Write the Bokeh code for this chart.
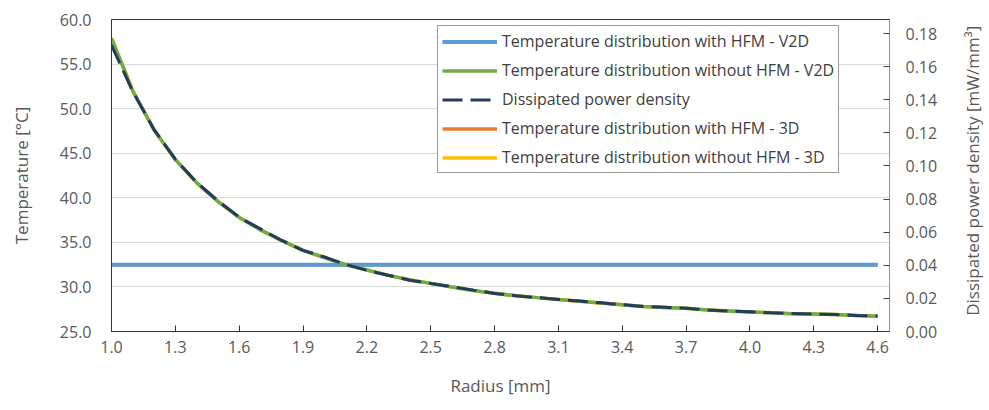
import math
from bokeh.plotting import figure
from bokeh.layouts import row
from bokeh.core.properties import value
from bokeh.models import (Range1d, LinearAxis, FixedTicker, NumeralTickFormatter,
                          Legend, LegendItem, ColumnDataSource)
from bokeh.embed import file_html
from bokeh.resources import INLINE

# ---------------- data ----------------
radius_mm = [1.0, 1.1, 1.2, 1.3, 1.4, 1.5, 1.6, 1.7, 1.8, 1.9,
             2.0, 2.1, 2.2, 2.3, 2.4, 2.5, 2.6, 2.7, 2.8, 2.9,
             3.0, 3.1, 3.2, 3.3, 3.4, 3.5, 3.6, 3.7, 3.8, 3.9,
             4.0, 4.1, 4.2, 4.3, 4.4, 4.5, 4.6]

temp_with_hfm_v2d = [32.5] * 37

temp_without_hfm_v2d = [57.9, 52.0, 47.6, 44.3, 41.7, 39.6, 37.8, 36.4, 35.2, 34.1,
                        33.3, 32.5, 31.9, 31.3, 30.8, 30.4, 30.0, 29.6, 29.3, 29.0,
                        28.8, 28.6, 28.4, 28.2, 28.0, 27.8, 27.7, 27.6, 27.4, 27.3,
                        27.2, 27.1, 27.0, 26.95, 26.9, 26.8, 26.7]

power_density = [0.173, 0.145, 0.122, 0.104, 0.090, 0.079, 0.069, 0.062, 0.055, 0.049,
                 0.045, 0.0405, 0.037, 0.034, 0.031, 0.029, 0.027, 0.025, 0.023, 0.0216,
                 0.0205, 0.0194, 0.0184, 0.0173, 0.0162, 0.0151, 0.0146, 0.0140, 0.0130, 0.0124,
                 0.0119, 0.0113, 0.0108, 0.0105, 0.0103, 0.0097, 0.0094]

temp_with_hfm_3d = [32.5] * 37

temp_without_hfm_3d = [57.9, 52.0, 47.6, 44.3, 41.7, 39.6, 37.8, 36.4, 35.2, 34.1,
                       33.3, 32.5, 31.9, 31.3, 30.8, 30.4, 30.0, 29.6, 29.3, 29.0,
                       28.8, 28.6, 28.4, 28.2, 28.0, 27.8, 27.7, 27.6, 27.4, 27.3,
                       27.2, 27.1, 27.0, 26.95, 26.9, 26.8, 26.7]

x_ticks = [1.0, 1.3, 1.6, 1.9, 2.2, 2.5, 2.8, 3.1, 3.4, 3.7, 4.0, 4.3, 4.6]
left_ticks = [25, 30, 35, 40, 45, 50, 55, 60]
right_ticks = [0.0, 0.02, 0.04, 0.06, 0.08, 0.10, 0.12, 0.14, 0.16, 0.18]

labels = ["Temperature distribution with HFM - V2D",
          "Temperature distribution without HFM - V2D",
          "Dissipated power density",
          "Temperature distribution with HFM - 3D",
          "Temperature distribution without HFM - 3D"]

x_title = "Radius [mm]"
left_title = "Temperature [°C]"
right_title = "Dissipated power density [mW/mm³]"

src = ColumnDataSource(dict(r=radius_mm, t1=temp_with_hfm_v2d, t2=temp_without_hfm_v2d,
                            pd=power_density, t3=temp_with_hfm_3d, t4=temp_without_hfm_3d))

FONT = "Open Sans"
TXT = "#595959"

p = figure(width=955, height=410, output_backend="svg", toolbar_location=None,
           x_range=Range1d(1.0, 4.656), y_range=Range1d(25, 60),
           min_border_left=111, min_border_right=66, min_border_top=19, min_border_bottom=79,
           background_fill_color="white", border_fill_color="white")
p.extra_y_ranges = {"pd": Range1d(0, 0.1885)}

p.outline_line_color = "#333333"
p.outline_line_width = 1
p.xgrid.visible = False
p.ygrid.grid_line_color = "#D9D9D9"
p.ygrid.ticker = FixedTicker(ticks=left_ticks[1:-1])

# x axis
xa = p.xaxis[0]
xa.ticker = FixedTicker(ticks=x_ticks)
xa.formatter = NumeralTickFormatter(format="0.0")
xa.axis_label = x_title
xa.axis_line_color = "#333333"
xa.major_tick_line_color = "#333333"
xa.major_tick_in = 6
xa.major_tick_out = 0
xa.minor_tick_line_color = None
xa.major_label_standoff = 9
xa.axis_label_standoff = 18

# left axis
ya = p.yaxis[0]
ya.ticker = FixedTicker(ticks=left_ticks)
ya.formatter = NumeralTickFormatter(format="0.0")
ya.axis_label = left_title
ya.axis_line_color = "#333333"
ya.major_tick_in = 0
ya.major_tick_out = 0
ya.minor_tick_line_color = None
ya.major_label_standoff = 20
ya.axis_label_standoff = 24

# right axis
ra = LinearAxis(y_range_name="pd")
ra.ticker = FixedTicker(ticks=right_ticks)
ra.formatter = NumeralTickFormatter(format="0.00")
ra.axis_line_color = "#8497B0"
ra.major_tick_line_color = "#404040"
ra.major_tick_in = 6
ra.major_tick_out = 0
ra.minor_tick_line_color = None
ra.major_label_standoff = 16
p.add_layout(ra, "right")

for ax in (xa, ya, ra):
    ax.major_label_text_font = FONT
    ax.major_label_text_font_size = "16px"
    ax.major_label_text_color = TXT
    ax.axis_label_text_font = FONT
    ax.axis_label_text_font_size = "17px"
    ax.axis_label_text_font_style = "normal"
    ax.axis_label_text_color = TXT

# lines (3D series underneath, hidden by the V2D ones)
r4 = p.line("r", "t3", source=src, line_color="#ED7D31", line_width=3.5)
r5 = p.line("r", "t4", source=src, line_color="#FFC000", line_width=3.5)
r1 = p.line("r", "t1", source=src, line_color="#5B9BD5", line_width=4)
r2 = p.line("r", "t2", source=src, line_color="#70AD47", line_width=3.5)
r3 = p.line("r", "pd", source=src, y_range_name="pd", line_color="#243B5E",
            line_width=3, line_dash="20 8")

legend = Legend(items=[LegendItem(label=labels[0], renderers=[r1]),
                       LegendItem(label=labels[1], renderers=[r2]),
                       LegendItem(label=labels[2], renderers=[r3]),
                       LegendItem(label=labels[3], renderers=[r4]),
                       LegendItem(label=labels[4], renderers=[r5])],
                location=(326, 158))
legend.label_text_font = FONT
legend.label_text_font_size = "16px"
legend.label_text_color = "#404040"
legend.glyph_width = 55
legend.glyph_height = 21
legend.label_height = 21
legend.label_standoff = 5
legend.spacing = 7
legend.padding = 4
legend.margin = 0
legend.border_line_color = "#333333"
legend.border_line_width = 1
legend.background_fill_color = "white"
legend.background_fill_alpha = 1
p.add_layout(legend, "center")

# narrow strip holding the right-axis title, reading bottom-to-top
p2 = figure(width=34, height=410, output_backend="svg", toolbar_location=None,
            x_range=Range1d(0, 1), y_range=Range1d(0, 1), title=None,
            x_axis_location=None, y_axis_location=None, min_border=0,
            background_fill_color="white", border_fill_color="white")
p2.outline_line_color = None
p2.grid.visible = False
p2.text(x=[0.5], y=[0.515], text=[right_title], angle=math.pi / 2,
        text_align="center", text_baseline="middle",
        text_font=value(FONT), text_font_size="17px", text_color=TXT)

layout = row(p, p2, spacing=0)
open("out.html", "w").write(file_html(layout, INLINE))
